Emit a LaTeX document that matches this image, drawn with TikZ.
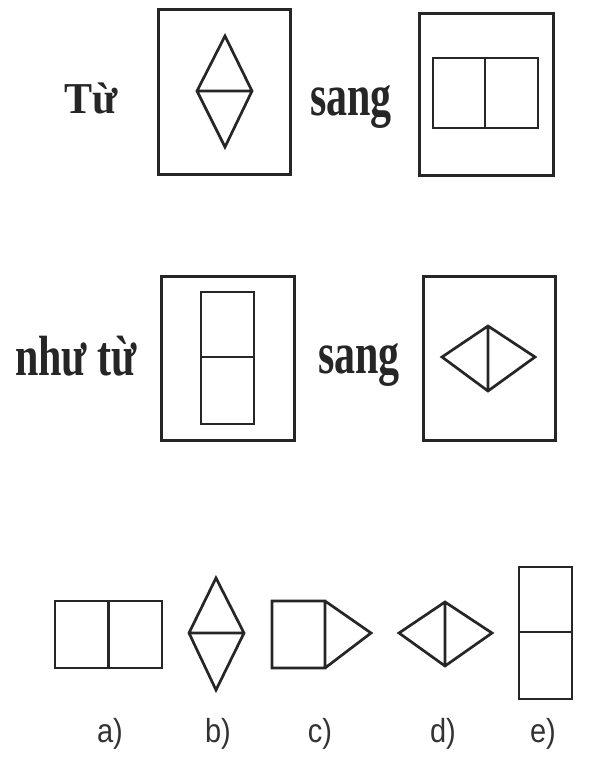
\documentclass[tikz,border=0pt]{standalone}
\usepackage{fontspec}
\setmainfont{Liberation Serif}
\newfontfamily\lblfont{Liberation Sans}
\begin{document}
\begin{tikzpicture}[x=1pt,y=-1pt,
  frame/.style={draw=black!85, line width=3pt},
  fig/.style={draw=black!85, line width=2.7pt},
  word/.style={anchor=base, inner sep=0pt, text=black!85, font=\bfseries\fontsize{42}{42}\selectfont},
  lbl/.style={anchor=base, inner sep=0pt, text=black!80, font=\lblfont\fontsize{29}{29}\selectfont}]
\useasboundingbox[fill=white] (0,0) rectangle (593,766);

% texts
\node[word] (tu) at (91,113) {\scalebox{1}[1.05]{Từ}};
\node[word] (sang1) at (351,115) {\scalebox{1}[1.4]{sang}};
\node[word] (nhutu) at (76,375) {\scalebox{1}[1.35]{như từ}};
\node[word] (sang2) at (359,373) {\scalebox{1}[1.4]{sang}};

% top row
\draw[frame] (158,9) rectangle (290,174);
\draw[fig] (225,36) -- (252,91) -- (225,147) -- (197,91) -- cycle (197,91) -- (252,91);
\draw[frame] (419,13) rectangle (553,175);
\draw[fig] (433,58) rectangle (538,128) (485,58) -- (485,128);

% middle row
\draw[frame] (161,276) rectangle (294,440);
\draw[fig] (201,292) rectangle (254,424) (201,357) -- (254,357);
\draw[frame] (423,276) rectangle (555,440);
\draw[fig] (442,357) -- (488,326) -- (535,357) -- (488,391) -- cycle (488,326) -- (488,391);

% bottom row
\draw[fig] (55,601) rectangle (162,668) (108.5,601) -- (108.5,668);
\draw[fig] (216,578) -- (244,633) -- (216,690) -- (189,633) -- cycle (189,633) -- (244,633);
\draw[fig] (272,601) rectangle (325,668) (325,601) -- (371,633) -- (325,668);
\draw[fig] (399,633) -- (445,602) -- (492,633) -- (445,666) -- cycle (445,602) -- (445,666);
\draw[fig] (519,567) rectangle (572,699) (519,632) -- (572,632);

% labels
\node[lbl] (la) at (110,742) {\scalebox{1}[1.15]{a)}};
\node[lbl] (lb) at (218,742) {\scalebox{1}[1.15]{b)}};
\node[lbl] (lc) at (320,742) {\scalebox{1}[1.15]{c)}};
\node[lbl] (ld) at (443,742) {\scalebox{1}[1.15]{d)}};
\node[lbl] (le) at (543,742) {\scalebox{1}[1.15]{e)}};
\end{tikzpicture}
\end{document}
